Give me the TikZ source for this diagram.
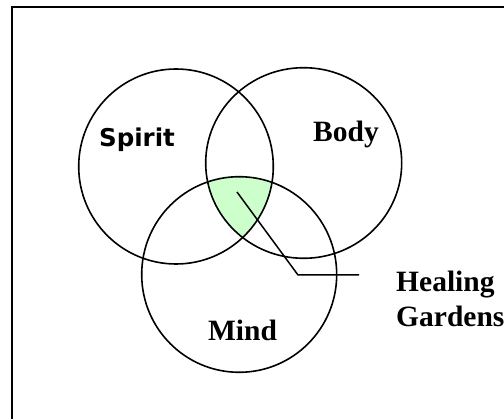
\documentclass[tikz,border=0pt]{standalone}
\usepackage{fontspec}
\setmainfont{Liberation Serif}
\newfontfamily\spiritfont{DejaVu Sans}
\usetikzlibrary{shapes.geometric}
\definecolor{healgreen}{HTML}{CCFFCC}
\tikzset{
  ring/.style={draw=black, line width=1.6pt, ellipse, inner sep=0pt},
  serlabel/.style={inner sep=0pt, font=\fontsize{29.5}{33}\selectfont\bfseries},
  leader/.style={draw=black, line width=1.5pt},
  frame/.style={draw=black, line width=2pt}
}
\begin{document}
\begin{tikzpicture}[x=1pt, y=-1pt]
  \useasboundingbox (0,0) rectangle (504,419);
  \clip (0,0) rectangle (504,419);
  \draw[frame] (12,430) -- (12,7) -- (520,7);
  % green intersection
  \begin{scope}
    \clip (176,166.5) ellipse [x radius=97.3, y radius=97.5];
    \clip (303.7,163) ellipse [x radius=98, y radius=95.3];
    \fill[healgreen] (239.2,274.5) ellipse [x radius=97.5, y radius=97.8];
  \end{scope}
  \node[ring, minimum width=194.6pt, minimum height=195pt] (spirit) at (176,166.5) {};
  \node[ring, minimum width=196pt, minimum height=190.6pt] (body) at (303.7,163) {};
  \node[ring, minimum width=195pt, minimum height=195.6pt] (mind) at (239.2,274.5) {};
  \node[inner sep=0pt, anchor=base, font=\spiritfont\fontsize{24.5}{28}\selectfont\bfseries] (spiritlbl) at (137,147) {Spirit};
  \node[serlabel, anchor=base] (bodylbl) at (346,142) {Body};
  \node[serlabel, anchor=base] (mindlbl) at (242.5,341) {Mind};
  \node[serlabel, anchor=base west] (heal) at (396,292) {Healing};
  \node[serlabel, anchor=base west] (gard) at (396,327) {Gardens};
  \coordinate (lstart) at (237,192);
  \coordinate (lbend) at (298,275);
  \coordinate (lend) at (359,275);
  \draw[leader] (lstart) -- (lbend) -- (lend);
\end{tikzpicture}
\end{document}
